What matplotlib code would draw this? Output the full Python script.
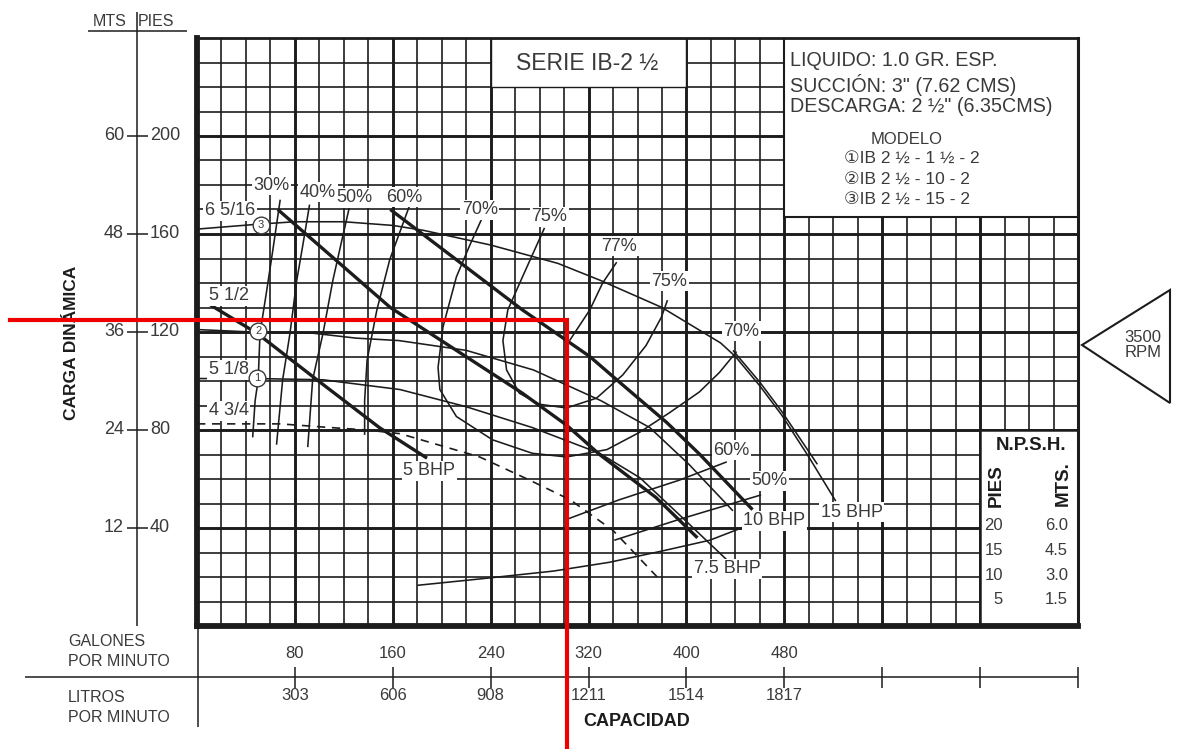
import matplotlib
matplotlib.use("Agg")
import matplotlib.pyplot as plt
from matplotlib.patches import Rectangle, Polygon

# ---------------- data (capacity in GPM, head in ft) ----------------
gpm_ticks = [80, 160, 240, 320, 400, 480]
lpm_ticks = [303, 606, 908, 1211, 1514, 1817]
pies_ticks = [40, 80, 120, 160, 200]
mts_ticks = [12, 24, 36, 48, 60]
npsh_pies = [20, 15, 10, 5]
npsh_mts = ["6.0", "4.5", "3.0", "1.5"]

# impeller head curves
d3_q = [0, 50, 80, 120, 160, 185, 240, 295, 330, 380, 428, 440, 460, 478, 500, 522]
d3_h = [162, 164, 165, 165, 163.5, 161.5, 155.5, 148, 141, 130, 115.5, 110, 98, 86, 69, 51]
d2_q = [0, 45, 95, 130, 165, 220, 275, 330, 370, 402, 438]
d2_h = [121, 120, 119.5, 117.5, 116.5, 112.5, 104.5, 92, 81, 66, 47]
d1_q = [0, 48, 103, 166, 220, 274, 329, 362, 394, 433]
d1_h = [101, 101, 100.5, 96.5, 89.5, 81, 70.5, 60.5, 45.5, 27]
d0_q = [0, 68, 109, 139, 166, 231, 272, 305, 340, 378]
d0_h = [82.5, 82.5, 81, 80, 78.5, 69, 59.5, 51.5, 39, 19]

# brake horsepower lines
bhp5_q = [11, 49, 98, 149, 188]
bhp5_h = [131, 119.5, 100.5, 81, 68.5]
bhp75_q = [66, 158, 212, 266, 302, 329, 375, 409]
bhp75_h = [170, 130, 112.5, 95, 82, 70, 52.5, 36]
bhp10_q = [158, 212, 266, 321, 343, 384, 411, 454]
bhp10_h = [170, 149.5, 129, 110, 100.5, 83, 70, 47.5]
bhp15_q = [438, 460, 478, 507]
bhp15_h = [112.5, 99.5, 87.5, 66]

# efficiency curves
e30_q = [68, 62, 57, 51.5, 50, 47.5, 45.5]
e30_h = [174, 153.5, 137, 119.5, 100.5, 92, 77]
e40_q = [92, 86.5, 81.5, 76, 70, 65]
e40_h = [172, 155.5, 141, 119.5, 100.5, 74]
e50_q = [125, 117.5, 111, 103, 94.5, 90.5]
e50_h = [172, 155.5, 141, 119.5, 100.5, 73]
e60_q = [174, 157.5, 147, 139, 137, 137]
e60_h = [172, 149.5, 129, 108.5, 92, 78]
e60r_q = [302, 345, 394, 433]
e60r_h = [43.5, 51.5, 59.5, 67]
e70_q = [233, 223, 212, 201, 197, 198.5, 212, 241.5, 274, 302, 335, 361.5, 386, 410.5, 427, 441]
e70_h = [166.5, 155.5, 142.5, 122, 105.5, 96.5, 85.5, 76, 70.5, 69, 72, 79, 87, 95.5, 103.5, 112]
e75_q = [284, 266, 254, 250, 253, 263.5, 280, 302, 326.5, 348, 367, 379.5, 384.5]
e75_h = [162.5, 142.5, 129, 116.5, 104.5, 95, 90.5, 89, 93, 102.5, 114.5, 126, 133]
e77_q = [343, 331.5, 321, 304.5]
e77_h = [148.5, 140, 129, 116.5]
e50r_q = [341, 394, 461]
e50r_h = [35, 43.5, 53.5]

# NPSH required (ft)
npsh_q = [180, 231, 291, 337, 380, 419, 447]
npsh_ft = [8.3, 9.6, 11.2, 13.0, 15.3, 17.5, 20.2]

# marked duty point
op_q, op_h = 302, 125

# ---------------- layout ----------------
W, H = 1189, 749
X0, X1, Y0, Y1 = 197, 1078, 38, 626
Q_MAX, H_MAX = 720, 240


def gx(q):
    return X0 + q / Q_MAX * (X1 - X0)


def gy(h):
    return Y1 - h / H_MAX * (Y1 - Y0)


ARIAL = ["Liberation Sans", "DejaVu Sans"]
NARROW = ["Liberation Sans Narrow", "Liberation Sans", "DejaVu Sans"]
INK = "#1c1c1c"
GREY = "#3a3a3a"

fig = plt.figure(figsize=(W / 100, H / 100), dpi=100)
ax = fig.add_axes([X0 / W, (H - Y1) / H, (X1 - X0) / W, (Y1 - Y0) / H])
ax.set_xlim(0, Q_MAX)
ax.set_ylim(0, H_MAX)
ax.set_xticks([])
ax.set_yticks([])
for side, lw in [("left", 4.2), ("bottom", 4.2), ("top", 2.0), ("right", 2.2)]:
    ax.spines[side].set_linewidth(lw)
    ax.spines[side].set_color(INK)

# grid
for q in range(20, Q_MAX, 20):
    ax.axvline(q, color=INK, lw=2.1 if q % 80 == 0 else 1.2, zorder=1)
for h in range(10, H_MAX, 10):
    ax.axhline(h, color=INK, lw=2.1 if h % 40 == 0 else 1.2, zorder=1)

# white panels
ax.add_patch(Rectangle((240, 220), 160, 20, fc="white", ec=INK, lw=1.0, zorder=2))
ax.add_patch(Rectangle((480, 167), 240, 73, fc="white", ec=INK, lw=1.5, zorder=2))
ax.add_patch(Rectangle((640, 0), 80, 80, fc="white", ec=INK, lw=1.8, zorder=2))

thin = dict(color=INK, lw=1.15, zorder=3, solid_capstyle="butt")
thick = dict(color=INK, lw=2.4, zorder=3, solid_capstyle="butt")

for q, h in [(d3_q, d3_h), (d2_q, d2_h), (d1_q, d1_h)]:
    ax.plot(q, h, **thin)
ax.plot(d0_q, d0_h, color=INK, lw=1.2, ls=(0, (5, 4)), zorder=3)

for q, h in [(bhp5_q, bhp5_h), (bhp75_q, bhp75_h), (bhp10_q, bhp10_h)]:
    ax.plot(q, h, **thick)
ax.plot(bhp15_q, bhp15_h, **thin)

for q, h in [(e30_q, e30_h), (e40_q, e40_h), (e50_q, e50_h), (e60_q, e60_h),
             (e60r_q, e60r_h), (e70_q, e70_h), (e75_q, e75_h), (e77_q, e77_h),
             (e50r_q, e50r_h)]:
    ax.plot(q, h, **thin)

ax.plot(npsh_q, [v * 2 for v in npsh_ft], **thin)

# impeller markers
for num, q, h in [("3", 52, 163.7), ("2", 50, 120.4), ("1", 49, 101.2)]:
    ax.plot(q, h, "o", ms=12, mfc="white", mec=GREY, mew=1.0, zorder=5)
    ax.text(q, h, num, ha="center", va="center", fontsize=8, color=GREY,
            family=ARIAL, zorder=6)

lbl = dict(ha="center", va="center", fontsize=13, color=GREY, family=ARIAL, zorder=4,
           bbox=dict(fc="white", ec="none", pad=1.2))
curve_labels = [
    ("30%", 61, 180), ("40%", 99, 177), ("50%", 129, 174.7), ("60%", 169, 175),
    ("70%", 231, 169.8), ("75%", 288, 167), ("77%", 345, 155), ("75%", 386, 140.8),
    ("70%", 445, 120.4), ("60%", 437, 71.8), ("50%", 468, 59.2),
    ("5 BHP", 190, 63.3), ("7.5 BHP", 433.5, 23.3), ("10 BHP", 472, 43), ("15 BHP", 535, 46.5),
    ("6 5/16", 27, 169.4), ("5 1/2", 26, 134.7), ("5 1/8", 26, 104.5), ("4 3/4", 26, 87.8),
]
for t, q, h in curve_labels:
    ax.text(q, h, t, **lbl)

# ---------------- overlay in pixel space ----------------
ov = fig.add_axes([0, 0, 1, 1], zorder=5)
ov.set_xlim(0, W)
ov.set_ylim(H, 0)
ov.axis("off")

ln = dict(color=INK, lw=1.1, solid_capstyle="butt")

# left head scale
ov.plot([137, 137], [12, Y1], **ln)
ov.plot([88, 187], [31, 31], **ln)
ov.text(110, 21, "MTS", ha="center", va="center", fontsize=11.5, color=GREY, family=NARROW)
ov.text(156, 21, "PIES", ha="center", va="center", fontsize=11.5, color=GREY, family=NARROW)
for p, m in zip(pies_ticks, mts_ticks):
    y = gy(p)
    ov.plot([127, 148], [y, y], **ln)
    ov.text(124, y, str(m), ha="right", va="center", fontsize=13, color=GREY, family=NARROW)
    ov.text(150, y, str(p), ha="left", va="center", fontsize=13, color=GREY, family=NARROW)
ov.text(72, 343, "CARGA DINÁMICA", rotation=90, ha="center", va="center",
        fontsize=12.5, fontweight="bold", color=INK, family=NARROW)

# capacity scales
ov.plot([25, X1], [677, 677], **ln)
ov.plot([198, 198], [Y1, 727], **ln)
for q in range(80, Q_MAX + 1, 80):
    ov.plot([gx(q)] * 2, [667, 688], **ln)
for g, l in zip(gpm_ticks, lpm_ticks):
    ov.text(gx(g), 653, str(g), ha="center", va="center", fontsize=12, color=GREY, family=NARROW)
    ov.text(gx(g), 695, str(l), ha="center", va="center", fontsize=12, color=GREY, family=NARROW)
for txt, y in [("GALONES", 642), ("POR MINUTO", 662), ("LITROS", 697), ("POR MINUTO", 718)]:
    ov.text(68, y, txt, ha="left", va="center", fontsize=11.5, color=GREY, family=NARROW)
ov.text(637, 722, "CAPACIDAD", ha="center", va="center", fontsize=13, fontweight="bold",
        color=INK, family=NARROW)

# title and liquid data
ov.text(587, 63, "SERIE IB-2 ½", ha="center", va="center", fontsize=16.5, color=GREY, family=NARROW)
for txt, y in [("LIQUIDO: 1.0 GR. ESP.", 61), ("SUCCIÓN: 3\" (7.62 CMS)", 85),
               ("DESCARGA: 2 ½\" (6.35CMS)", 107)]:
    ov.text(790, y, txt, ha="left", va="center", fontsize=14.2, color=GREY, family=ARIAL)
ov.text(907, 140, "MODELO", ha="center", va="center", fontsize=12, color=GREY, family=ARIAL)
for txt, y in [("①IB 2 ½ - 1 ½ - 2", 158), ("②IB 2 ½ - 10 - 2", 179), ("③IB 2 ½ - 15 - 2", 199)]:
    ov.text(844, y, txt, ha="left", va="center", fontsize=12.5, color=GREY, family=ARIAL)

# NPSH scale
ov.text(1031, 446, "N.P.S.H.", ha="center", va="center", fontsize=13.5, fontweight="bold",
        color=INK, family=ARIAL)
ov.text(996, 486, "PIES", rotation=90, ha="center", va="center", fontsize=13.5,
        fontweight="bold", color=INK, family=ARIAL)
ov.text(1063, 484, "MTS.", rotation=90, ha="center", va="center", fontsize=13.5,
        fontweight="bold", color=INK, family=ARIAL)
for p, m in zip(npsh_pies, npsh_mts):
    y = gy(p * 2) - 2
    ov.text(1003, y, str(p), ha="right", va="center", fontsize=12, color=GREY, family=ARIAL)
    ov.text(1068, y, m, ha="right", va="center", fontsize=12, color=GREY, family=ARIAL)

# speed marker
ov.add_patch(Polygon([(1082, 345), (1170, 290), (1170, 403)], closed=True, fill=False,
                     ec=INK, lw=1.5))
ov.text(1143, 345, "3500\nRPM", ha="center", va="center", fontsize=12, color=GREY,
        family=NARROW, linespacing=1.0)

# red duty point marking
xr, yr = gx(op_q), gy(op_h)
ov.plot([10, xr, xr], [yr, yr, H], color="#ee0000", lw=3.0, solid_joinstyle="miter", zorder=10)

fig.savefig("out.png", dpi=100, facecolor="white")
